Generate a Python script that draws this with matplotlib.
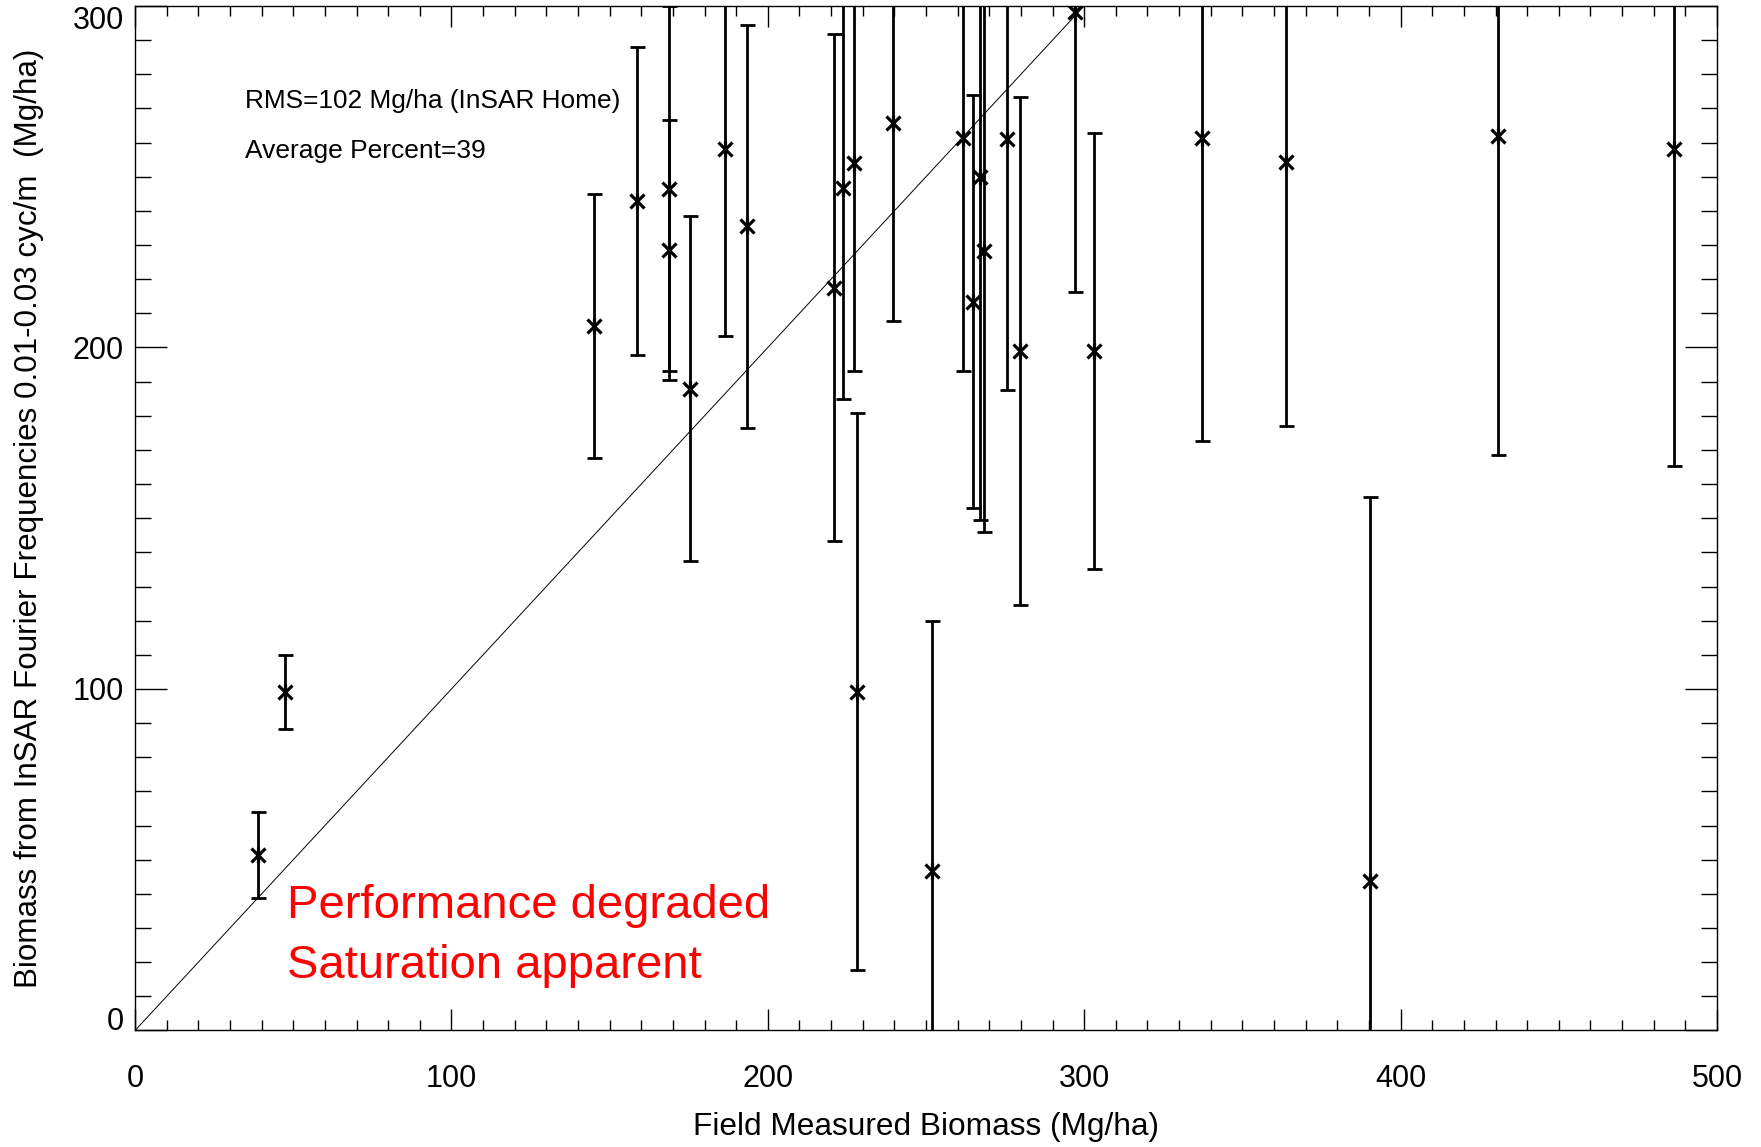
import numpy as np
import matplotlib
matplotlib.use("Agg")
import matplotlib.pyplot as plt

plt.rcParams["font.family"] = ["Liberation Sans", "DejaVu Sans"]

# field biomass (Mg/ha), InSAR biomass (Mg/ha), +/- error
field = [38.8, 47.5, 144.9, 158.6, 168.9, 168.9, 175.5, 186.6, 193.4,
         221.0, 223.8, 227.3, 228.2, 239.5, 252.0, 261.6, 264.8, 267.2,
         268.2, 275.6, 279.6, 297.0, 303.0, 337.3, 363.8, 390.4, 430.8,
         486.3]
insar = [51.3, 99.2, 206.2, 242.9, 246.5, 228.6, 187.9, 258.1, 235.5,
         217.5, 246.7, 254.0, 99.2, 265.7, 46.6, 261.2, 213.4, 250.0,
         228.2, 261.0, 199.0, 298.1, 198.9, 261.2, 254.2, 43.9, 261.8,
         258.0]
err = [12.6, 10.8, 38.6, 45.0, 53.4, 38.0, 50.5, 54.6, 59.0,
       74.3, 61.9, 60.8, 81.5, 58.0, 73.2, 68.0, 60.5, 100.5,
       82.1, 73.6, 74.3, 82.0, 63.9, 88.7, 77.3, 112.2, 93.3,
       92.8]
one_to_one = [0, 300]

fig = plt.figure(figsize=(17.61, 11.47), dpi=100)
ax = fig.add_axes([0.0767, 0.1016, 0.8983, 0.8932])

ax.plot(one_to_one, one_to_one, color="black", lw=0.7)
ax.errorbar(field, insar, yerr=err, fmt="none", ecolor="black",
            elinewidth=2.0, capsize=5.4, capthick=2.0)
# IDL-style asterisk: an x with a vertical stroke
ax.plot(field, insar, ls="none", marker="x", ms=10.5, mew=2.3, color="black")
ax.plot(field, insar, ls="none", marker="|", ms=12, mew=2.3, color="black")

ax.set_xlim(0, 500)
ax.set_ylim(0, 300)
ax.set_xticks(np.arange(0, 501, 100))
ax.set_xticks(np.arange(0, 501, 10), minor=True)
ax.set_yticks(np.arange(0, 301, 100))
ax.set_yticks(np.arange(0, 301, 10), minor=True)
ax.tick_params(which="both", direction="in", top=True, right=True,
               width=1.0, colors="black")
ax.tick_params(axis="x", which="major", length=14.8, pad=24, labelsize=22)
ax.tick_params(axis="x", which="minor", length=7.4)
ax.tick_params(axis="y", which="major", length=22.8, pad=8, labelsize=22)
ax.tick_params(axis="y", which="minor", length=11.4)
for s in ax.spines.values():
    s.set_linewidth(1.0)

ylabs = ax.get_yticklabels()
ylabs[0].set_va("baseline")
ylabs[-1].set_va("top")

ax.set_xlabel("Field Measured Biomass (Mg/ha)", fontsize=22.8, va="center")
ax.xaxis.set_label_coords(0.5, -0.094)
ax.set_ylabel("Biomass from InSAR Fourier Frequencies 0.01-0.03 cyc/m  (Mg/ha)",
              fontsize=22.6, va="center")
ax.yaxis.set_label_coords(-0.0668, 0.5)

ax.text(0.0696, 0.907, "RMS=102 Mg/ha (InSAR Home)", transform=ax.transAxes,
        fontsize=18.9, va="center", ha="left")
ax.text(0.0696, 0.858, "Average Percent=39", transform=ax.transAxes,
        fontsize=19, va="center", ha="left")

ax.text(48.0, 32.8, "Performance degraded", color="red", fontsize=34,
        va="baseline", ha="left")
ax.text(48.0, 15.5, "Saturation apparent", color="red", fontsize=34,
        va="baseline", ha="left")

fig.savefig("out.png", dpi=100, facecolor="white")
